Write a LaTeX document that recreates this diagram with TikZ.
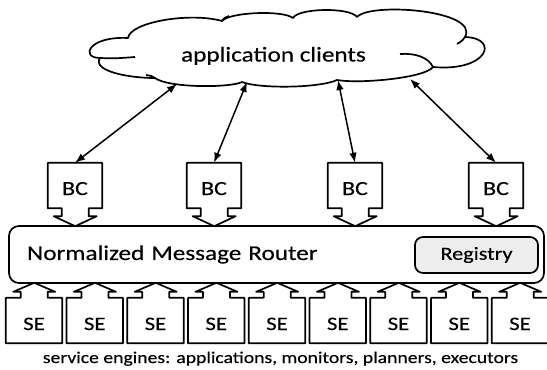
\documentclass[tikz,border=0pt]{standalone}
\usepackage{fontspec}
\setmainfont[FakeStretch=1.2,FakeBold=0.3]{Carlito}
\usetikzlibrary{arrows.meta}
\newcommand\BCcall[1]{\draw[boxline] (#1.south west) -- (#1.north west) -- (#1.north east) -- (#1.south east) -- ++(-13.5,0) -- ++(0,8) -- ++(8,0) -- ++(-21.5,10) -- ++(-21.5,-10) -- ++(8,0) -- ++(0,-8) -- cycle;}
\newcommand\SEcall[1]{\draw[boxline] (#1.north west) -- (#1.south west) -- (#1.south east) -- (#1.north east) -- ++(-14.5,0) -- ++(0,-6) -- ++(7.5,0) -- ++(-21,-9) -- ++(-21,9) -- ++(7.5,0) -- ++(0,6) -- cycle;}
\begin{document}
\begin{tikzpicture}[x=1pt,y=-1pt,line join=round,
  boxline/.style={line width=1.7pt},
  bigfont/.style={font=\fontsize{21}{25}\selectfont},
  bcbox/.style={font=\fontsize{20}{24}\selectfont, minimum width=54pt, minimum height=45pt, inner sep=0pt, text height=19pt, text depth=0pt},
  sebox/.style={font=\fontsize{19}{23}\selectfont, minimum width=56pt, minimum height=45pt, inner sep=0pt, text height=19pt, text depth=0pt},
  link/.style={line width=1.5pt, {Latex[length=10pt,width=7.5pt]}-{Latex[length=10pt,width=7.5pt]}},
  cloudline/.style={line width=1.7pt}
]
\useasboundingbox (0,0) rectangle (547,370);
% cloud
\draw[cloudline] (100,58) .. controls (80,58) and (88,36) .. (128,38)
 .. controls (130,22) and (190,12) .. (222,21)
 .. controls (230,12) and (283,10) .. (293,18)
 .. controls (298,8) and (350,7) .. (357,17)
 .. controls (370,2) and (480,10) .. (465,37)
 .. controls (500,38) and (488,72) .. (433,67)
 .. controls (425,78) and (360,84) .. (337,80)
 .. controls (320,88) and (260,89) .. (242,82)
 .. controls (230,88) and (168,88) .. (155,78)
 .. controls (125,78) and (92,70) .. (100,58);
\draw[cloudline] (100,58) .. controls (115,58.5) .. (135,57);
\draw[cloudline] (433,67) .. controls (428,57) and (415,53) .. (400,54);
\draw[cloudline] (465,37) .. controls (462,41) .. (457,44);
\draw[cloudline] (155,78) .. controls (152,76) .. (146,75);
\draw[cloudline] (222,21) .. controls (224,18) .. (229,16);
\node[bigfont, anchor=base] (clients) at (273.5,61.5) {application clients};
\coordinate (c1) at (177,84);
\coordinate (c2) at (247,82);
\coordinate (c3) at (338,80);
\coordinate (c4) at (410,79);
% router
\node[boxline, draw, rounded corners=10pt, bigfont, minimum width=535pt, minimum height=57pt, text width=499pt, inner xsep=18pt, align=left] (nmr) at (276.5,254.5) {Normalized Message Router};
\node[boxline, draw, fill=black!7, rounded corners=8pt, font=\fontsize{18.5}{22}\selectfont, minimum width=123pt, minimum height=36pt, inner sep=0pt] (reg) at (476.5,255) {Registry};
% BC
\foreach \i/\x in {1/75,2/214,3/355,4/496}{
  \node[bcbox] (bc\i) at (\x,185.5) {BC};
  \BCcall{bc\i}
}
\foreach \i in {1,...,4}{\draw[link] (bc\i.north) -- (c\i);}
% SE
\foreach \i in {0,...,8}{
  \node[sebox] (se\i) at ({34+60.75*\i},320.5) {SE};
  \SEcall{se\i}
}
\node[font=\fontsize{16.4}{20}\selectfont, anchor=base] (footer) at (280.5,363) {service engines: applications, monitors, planners, executors};
\end{tikzpicture}
\end{document}
